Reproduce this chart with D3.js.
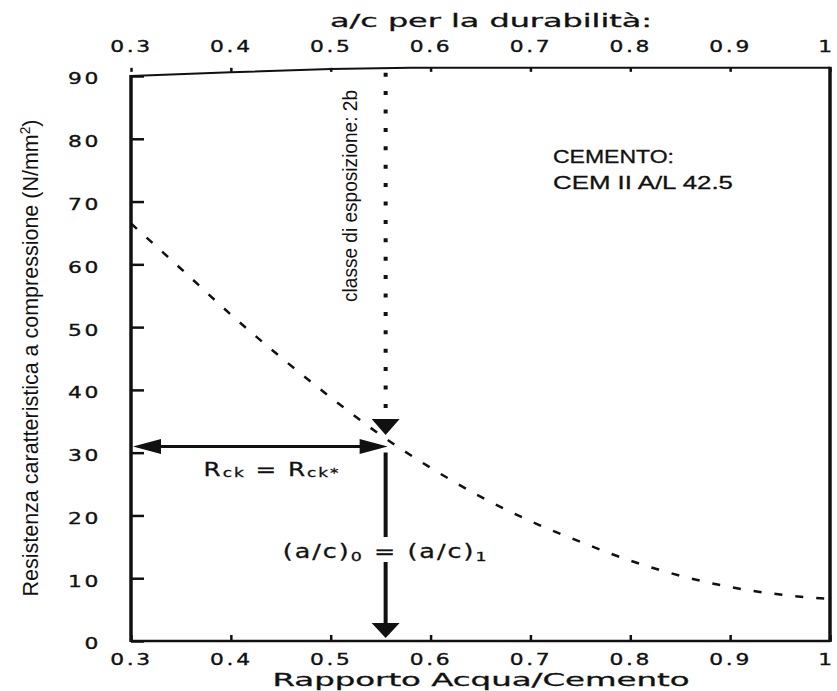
<!DOCTYPE html>
<html>
<head>
<meta charset="utf-8">
<script src="https://cdn.jsdelivr.net/npm/d3@7"></script>
<style>
  body { margin: 0; background: #fff; }
  svg { display: block; }
  .wide { font-family: "DejaVu Sans", sans-serif; font-size: 16.5px; fill: #111; stroke: #111; stroke-width: 0.35px; letter-spacing: 2px; }
</style>
</head>
<body>
<div id="chart"></div>
<script>
// a/c ratio ticks (same on bottom and top axis)
const acTicks = [0.3, 0.4, 0.5, 0.6, 0.7, 0.8, 0.9, 1.0];
const acTickLabels = ["0.3", "0.4", "0.5", "0.6", "0.7", "0.8", "0.9", "1"];
const rckTicks = [0, 10, 20, 30, 40, 50, 60, 70, 80, 90];

// dashed curve: Rck vs a/c
const acValues = [0.30, 0.35, 0.40, 0.45, 0.50, 0.55, 0.60, 0.65, 0.70, 0.75, 0.80, 0.85, 0.90, 0.95, 1.00];
const rckValues = [66.5, 59.3, 52.0, 45.2, 38.8, 32.8, 27.6, 23.0, 19.1, 15.8, 12.8, 10.4, 8.6, 7.4, 6.7];

// top border as scanned (slightly tilted)
const topAc = [0.30, 0.40, 0.50, 0.58, 1.00];
const topRck = [90.0, 90.6, 91.1, 91.3, 91.3];

// design point
const acDesign = 0.555;
const rckDesign = 31;
const dottedTip = 32.8;

const width = 837, height = 691;
const x = d3.scaleLinear().domain([0.3, 1.0]).range([131, 830]);
const y = d3.scaleLinear().domain([0, 90]).range([641, 76]);

const svg = d3.select("#chart").append("svg")
    .attr("width", width)
    .attr("height", height);

svg.append("rect").attr("width", width).attr("height", height).attr("fill", "#fff");

// ---- axes ----
const fmt = d => acTickLabels[acTicks.indexOf(d)];

const axBottom = svg.append("g")
    .attr("transform", `translate(0,${y(0)})`)
    .call(d3.axisBottom(x).tickValues(acTicks).tickFormat(fmt).tickSizeInner(-6).tickSizeOuter(0));

const axTop = svg.append("g")
    .attr("transform", `translate(0,${y(91.3)})`)
    .call(d3.axisTop(x).tickValues(acTicks).tickFormat(fmt).tickSizeInner(-4).tickSizeOuter(0));

const axLeft = svg.append("g")
    .attr("transform", `translate(${x(0.3)},0)`)
    .call(d3.axisLeft(y).tickValues(rckTicks).tickSizeInner(-13).tickSizeOuter(0));

[axBottom, axTop, axLeft].forEach(g => {
    g.attr("font-family", null).attr("font-size", null);
    g.select(".domain").remove();
    g.selectAll(".tick line").attr("stroke", "#111").attr("stroke-width", 2.5);
    g.selectAll(".tick text").attr("class", "wide");
});

// last label "1" sits at the right edge, nudge it in a bit
const shift = d => d === 1.0 ? -4 : 0;
axBottom.selectAll(".tick text").attr("y", 0).attr("dy", 0)
    .attr("transform", d => `translate(${shift(d)},24) scale(1.32,1)`);
axTop.selectAll(".tick text").attr("y", 0).attr("dy", 0)
    .attr("transform", d => `translate(${shift(d)},-16) scale(1.32,1)`);
axLeft.selectAll(".tick text").attr("x", 0).attr("dy", "0.36em")
    .attr("text-anchor", "end")
    .attr("transform", "translate(-30,2) scale(1.32,1)");

// ---- frame ----
const frameLine = d3.line().x(d => x(d[0])).y(d => y(d[1]));
svg.append("path")
    .attr("d", frameLine(topAc.map((a, i) => [a, topRck[i]])))
    .attr("fill", "none").attr("stroke", "#111").attr("stroke-width", 2);
svg.append("line")
    .attr("x1", x(0.3)).attr("x2", x(0.3)).attr("y1", y(90) - 1).attr("y2", y(0) + 1)
    .attr("stroke", "#111").attr("stroke-width", 3.5);
svg.append("line")
    .attr("x1", x(1)).attr("x2", x(1)).attr("y1", y(91.3) - 1).attr("y2", y(0) + 1)
    .attr("stroke", "#111").attr("stroke-width", 3.5);
svg.append("line")
    .attr("x1", x(0.3)).attr("x2", x(1)).attr("y1", y(0)).attr("y2", y(0))
    .attr("stroke", "#111").attr("stroke-width", 2.5);

// ---- dashed curve ----
const curve = d3.line()
    .x((d, i) => x(acValues[i]))
    .y(d => y(d))
    .curve(d3.curveMonotoneX);
svg.append("path")
    .attr("d", curve(rckValues))
    .attr("fill", "none")
    .attr("stroke", "#111")
    .attr("stroke-width", 2.5)
    .attr("stroke-dasharray", "8 13");

// ---- arrows ----
const xd = x(acDesign), yd = y(rckDesign);

// dotted vertical from top down to curve
svg.append("line")
    .attr("x1", xd).attr("x2", xd)
    .attr("y1", y(91.0) + 3).attr("y2", y(dottedTip) - 18)
    .attr("stroke", "#111").attr("stroke-width", 4)
    .attr("stroke-dasharray", "4 14.4");
svg.append("path")
    .attr("d", `M${xd - 14},${y(dottedTip) - 16} L${xd + 14},${y(dottedTip) - 16} L${xd},${y(dottedTip)} Z`)
    .attr("fill", "#111");

// horizontal double arrow at Rck
const xl = x(0.3) + 2;
svg.append("line")
    .attr("x1", xl + 20).attr("x2", xd - 20).attr("y1", yd).attr("y2", yd)
    .attr("stroke", "#111").attr("stroke-width", 3);
svg.append("path")
    .attr("d", `M${xl},${yd} L${xl + 28},${yd - 7.5} L${xl + 28},${yd + 7.5} Z`)
    .attr("fill", "#111");
svg.append("path")
    .attr("d", `M${xd + 2},${yd} L${xd - 26},${yd - 7.5} L${xd - 26},${yd + 7.5} Z`)
    .attr("fill", "#111");

// vertical solid arrow down to the a/c axis
svg.append("line")
    .attr("x1", xd).attr("x2", xd).attr("y1", yd + 6).attr("y2", y(0) - 16)
    .attr("stroke", "#111").attr("stroke-width", 4);
svg.append("path")
    .attr("d", `M${xd - 14},${y(0) - 18} L${xd + 14},${y(0) - 18} L${xd},${y(0) - 3} Z`)
    .attr("fill", "#111");

// ---- labels ----
const labelFont = "DejaVu Sans, sans-serif";

const acLabel = svg.append("g");
acLabel.append("rect")
    .attr("x", 280).attr("y", 537).attr("width", 206).attr("height", 25)
    .attr("fill", "#fff");
const acText = acLabel.append("text")
    .attr("transform", `translate(${xd},558) scale(1.34,1)`)
    .attr("text-anchor", "middle")
    .attr("font-family", labelFont)
    .attr("font-size", 19).attr("letter-spacing", 1.5)
    .attr("fill", "#111").attr("stroke", "#111").attr("stroke-width", 0.3);
acText.append("tspan").text("(a/c)");
acText.append("tspan").attr("font-size", 13).attr("dy", 3).text("0");
acText.append("tspan").attr("dy", -3).text(" = (a/c)");
acText.append("tspan").attr("font-size", 13).attr("dy", 3).text("1");

const rText = svg.append("text")
    .attr("transform", "translate(272,476) scale(1.3,1)")
    .attr("text-anchor", "middle")
    .attr("font-family", labelFont)
    .attr("font-size", 19).attr("letter-spacing", 1.5)
    .attr("fill", "#111").attr("stroke", "#111").attr("stroke-width", 0.3);
rText.append("tspan").text("R");
rText.append("tspan").attr("font-size", 13).attr("dy", 1).text("ck");
rText.append("tspan").attr("dy", -1).text(" = R");
rText.append("tspan").attr("font-size", 13).attr("dy", 1).text("ck*");

svg.append("text")
    .attr("x", 553).attr("y", 163)
    .attr("font-family", "Liberation Sans, Arial, sans-serif")
    .attr("font-size", 19)
    .attr("textLength", 121).attr("lengthAdjust", "spacingAndGlyphs")
    .attr("fill", "#111").attr("stroke", "#111").attr("stroke-width", 0.3)
    .text("CEMENTO:");
svg.append("text")
    .attr("x", 553).attr("y", 189)
    .attr("font-family", "Liberation Sans, Arial, sans-serif")
    .attr("font-size", 19)
    .attr("textLength", 180).attr("lengthAdjust", "spacingAndGlyphs")
    .attr("fill", "#111").attr("stroke", "#111").attr("stroke-width", 0.3)
    .text("CEM II A/L 42.5");

svg.append("text")
    .attr("transform", `translate(357,196) rotate(-90)`)
    .attr("text-anchor", "middle")
    .attr("font-family", "Liberation Sans Narrow, Arial Narrow, sans-serif")
    .attr("font-size", 20)
    .attr("textLength", 212).attr("lengthAdjust", "spacingAndGlyphs")
    .attr("fill", "#111")
    .text("classe di esposizione: 2b");

// axis titles
svg.append("text")
    .attr("x", 491).attr("y", 27)
    .attr("text-anchor", "middle")
    .attr("font-family", "DejaVu Sans, sans-serif")
    .attr("font-size", 17)
    .attr("textLength", 322).attr("lengthAdjust", "spacingAndGlyphs")
    .attr("fill", "#111").attr("stroke", "#111").attr("stroke-width", 0.3)
    .text("a/c per la durabilità:");

svg.append("text")
    .attr("x", 481).attr("y", 686)
    .attr("text-anchor", "middle")
    .attr("font-family", "DejaVu Sans, sans-serif")
    .attr("font-size", 17)
    .attr("textLength", 417).attr("lengthAdjust", "spacingAndGlyphs")
    .attr("fill", "#111").attr("stroke", "#111").attr("stroke-width", 0.3)
    .text("Rapporto Acqua/Cemento");

const yTitle = svg.append("text")
    .attr("transform", `translate(38,358) rotate(-90)`)
    .attr("text-anchor", "middle")
    .attr("font-family", "Liberation Sans Narrow, Arial Narrow, sans-serif")
    .attr("font-size", 22)
    .attr("textLength", 477).attr("lengthAdjust", "spacingAndGlyphs")
    .attr("fill", "#111");
yTitle.append("tspan").text("Resistenza caratteristica a compressione (N/mm");
yTitle.append("tspan").attr("font-size", 14).attr("dy", -8).text("2");
yTitle.append("tspan").attr("dy", 8).text(")");
</script>
</body>
</html>
